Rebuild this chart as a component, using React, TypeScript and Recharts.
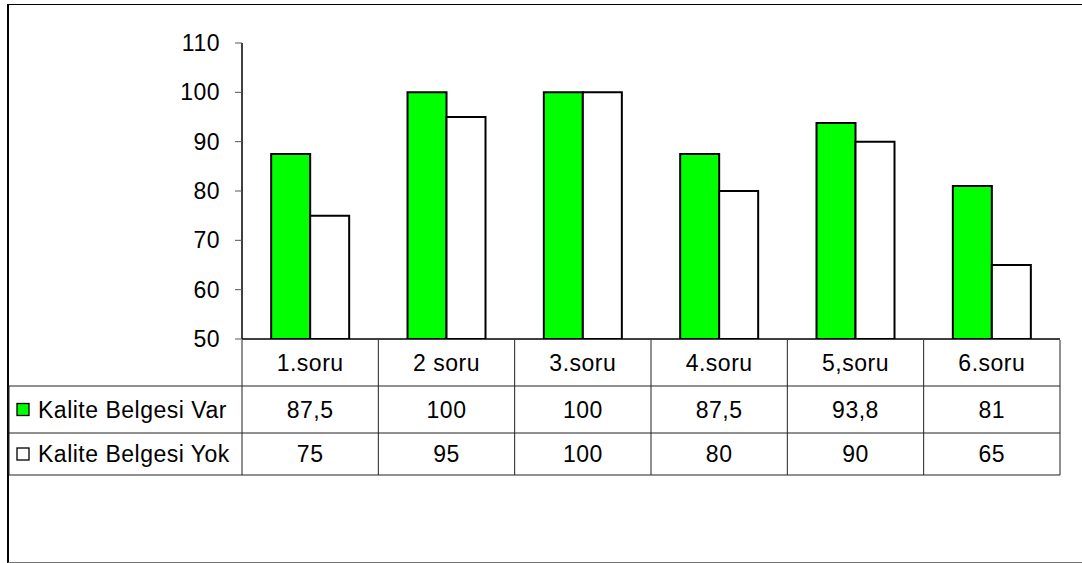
import React from "react";
import { BarChart, Bar, XAxis, YAxis } from "recharts";

const categories = ["1.soru", "2 soru", "3.soru", "4.soru", "5,soru", "6.soru"];
const belgeVar = [87.5, 100, 100, 87.5, 93.8, 81];
const belgeYok = [75, 95, 100, 80, 90, 65];
const seriesNames = ["Kalite Belgesi Var", "Kalite Belgesi Yok"];
const yTicks = [50, 60, 70, 80, 90, 100, 110];

const data = categories.map((name, i) => ({
  name,
  var: belgeVar[i],
  yok: belgeYok[i],
}));

const W = 1082;
const H = 563;
const PLOT_LEFT = 242;
const PLOT_RIGHT = 1060;
const PLOT_TOP = 43;
const PLOT_BOTTOM = 339;
const BAND = (PLOT_RIGHT - PLOT_LEFT) / categories.length;
const ROW_LINES = [1, 47, 94, 136]; // table row borders, relative to axis
const GREEN = "#00ff00";
const FONT = { fontSize: 23, fill: "#000", letterSpacing: 0.5 };

const fmt = (v: number) => String(v).replace(".", ",");

// draws one column of the data table under each category
const TableTick = (props: any) => {
  const { x, y, payload } = props;
  const i = categories.indexOf(payload.value);
  const left = x - BAND / 2;
  const right = x + BAND / 2;
  const top = y + ROW_LINES[0];
  const bottom = y + ROW_LINES[3];
  const rowMid = (a: number, b: number) => y + (ROW_LINES[a] + ROW_LINES[b]) / 2;
  const line = { stroke: "#222", strokeWidth: 1 };
  const tableLeft = 9;
  const keyX = 17;

  return (
    <g>
      <line x1={left} x2={left} y1={top} y2={bottom} {...line} />
      {i === categories.length - 1 && (
        <line x1={right} x2={right} y1={top} y2={bottom} {...line} />
      )}
      {[1, 2, 3].map((r) => (
        <line key={r} x1={left} x2={right} y1={y + ROW_LINES[r]} y2={y + ROW_LINES[r]} {...line} />
      ))}
      <text x={x} y={rowMid(0, 1)} textAnchor="middle" dominantBaseline="central" {...FONT}>
        {payload.value}
      </text>
      <text x={x} y={rowMid(1, 2)} textAnchor="middle" dominantBaseline="central" {...FONT}>
        {fmt(belgeVar[i])}
      </text>
      <text x={x} y={rowMid(2, 3)} textAnchor="middle" dominantBaseline="central" {...FONT}>
        {fmt(belgeYok[i])}
      </text>

      {i === 0 && (
        <g>
          <line x1={tableLeft} x2={tableLeft} y1={y + ROW_LINES[1]} y2={bottom} {...line} />
          {[1, 2, 3].map((r) => (
            <line key={r} x1={tableLeft} x2={left} y1={y + ROW_LINES[r]} y2={y + ROW_LINES[r]} {...line} />
          ))}
          {seriesNames.map((s, k) => {
            const cy = rowMid(k + 1, k + 2);
            return (
              <g key={s}>
                <rect
                  x={keyX}
                  y={cy - 6}
                  width={12}
                  height={12}
                  fill={k === 0 ? GREEN : "#fff"}
                  stroke="#000"
                  strokeWidth={1.3}
                />
                <text x={38} y={cy} dominantBaseline="central" {...FONT}>
                  {s}
                </text>
              </g>
            );
          })}
        </g>
      )}
    </g>
  );
};

export default function App() {
  return (
    <div
      style={{
        position: "absolute",
        left: 0,
        top: 0,
        width: W,
        height: H,
        overflow: "hidden",
        background: "#fff",
        fontFamily: "'Liberation Sans', Arial, sans-serif",
      }}
    >
      <div
        style={{
          position: "absolute",
          left: 7,
          top: 4,
          width: W - 7,
          height: 557,
          borderTop: "1.5px solid #000",
          borderLeft: "2px solid #000",
          borderBottom: "1px solid #777",
        }}
      />
      <div style={{ position: "absolute", left: 0, top: 0 }}>
        <BarChart
          width={W}
          height={H}
          data={data}
          margin={{ top: PLOT_TOP, right: W - PLOT_RIGHT, bottom: 0, left: 0 }}
          barCategoryGap="21.4%"
          barGap={0}
        >
          <YAxis
            width={PLOT_LEFT}
            domain={[50, 110]}
            ticks={yTicks}
            interval={0}
            allowDataOverflow
            tickSize={7}
            tickMargin={15}
            axisLine={{ stroke: "#000", strokeWidth: 1.5 }}
            tickLine={{ stroke: "#555" }}
            tick={{ ...FONT }}
          />
          <XAxis
            dataKey="name"
            height={H - PLOT_BOTTOM}
            interval={0}
            tickSize={0}
            tickMargin={0}
            tickLine={false}
            axisLine={{ stroke: "#000", strokeWidth: 1.5 }}
            tick={<TableTick />}
          />
          <Bar
            dataKey="var"
            name={seriesNames[0]}
            fill={GREEN}
            stroke="#000"
            strokeWidth={2}
            isAnimationActive={false}
          />
          <Bar
            dataKey="yok"
            name={seriesNames[1]}
            fill="#fff"
            stroke="#000"
            strokeWidth={2}
            isAnimationActive={false}
          />
        </BarChart>
      </div>
    </div>
  );
}
